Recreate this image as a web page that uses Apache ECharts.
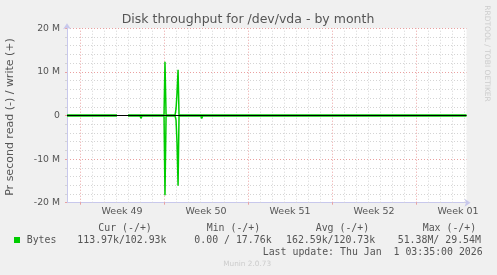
<!DOCTYPE html>
<html><head><meta charset="utf-8">
<script src="https://cdn.jsdelivr.net/npm/echarts@6/dist/echarts.min.js"></script>
<style>html,body{margin:0;padding:0;background:#f0f0f0;}#c{width:497px;height:275px;}</style>
</head><body><div id="c"></div>
<script>
// ---- data (time in days since Mon 1 Dec 2025 00:00; values in bytes/s) ----
const titleText = 'Disk throughput for /dev/vda - by month';
const yAxisName = 'Pr second read (-) / write (+)';
const weekLabels = ['Week 49', 'Week 50', 'Week 51', 'Week 52', 'Week 01'];
const weekCenters = [3.5, 10.5, 17.5, 24.5, 31.5];
const weekStarts = [0, 7, 14, 21, 28];
const minorDays = [1,2,3,4,5,6,8,9,10,11,12,13,15,16,17,18,19,20,22,23,24,25,26,27,29,30,31,32];
const yTickValues = [-20e6, -10e6, 0, 10e6, 20e6];
const yTickLabels = ['-20 M', '-10 M', '0', '10 M', '20 M'];
const X_MIN = -1.0833, X_MAX = 32.2;
const zeroRule = 0;

const times = [
  -1.08, -0.92, -0.83,
  0.0, 0.08, 0.17,
  1.0, 1.08, 1.17,
  2.0, 2.08, 2.17,
  3.08, 3.5, 4.0,
  4.17, 4.25, 4.33,
  5.0, 5.08, 5.17,
  6.0, 6.08, 6.17,
  6.67, 6.75, 6.83,
  7.0, 7.08, 7.17,
  7.92, 8.0, 8.08, 8.17, 8.25,
  9.25, 9.33, 9.42,
  10.06, 10.14, 10.22,
  11.0, 11.08, 11.17,
  12.0, 12.08, 12.17,
  13.92, 14.0, 14.08,
  23.42, 23.5, 23.58,
  24.67, 24.75, 24.83,
  32.2
];
const writeBytes = [
  103e3, 110e3, 103e3,
  103e3, 120e3, 103e3,
  103e3, 115e3, 103e3,
  103e3, 115e3, 103e3,
  103e3, null, 103e3,
  103e3, 480e3, 103e3,
  103e3, 120e3, 103e3,
  103e3, 120e3, 103e3,
  103e3, 300e3, 103e3,
  103e3, 12.3e6, 103e3,
  103e3, 1.5e6, 5.0e6, 10.5e6, 103e3,
  103e3, 110e3, 103e3,
  103e3, 120e3, 103e3,
  103e3, 115e3, 103e3,
  103e3, 115e3, 103e3,
  103e3, 400e3, 103e3,
  103e3, 250e3, 103e3,
  103e3, 250e3, 103e3,
  103e3
];
const readBytes = [
  114e3, 520e3, 114e3,
  114e3, 500e3, 114e3,
  114e3, 500e3, 114e3,
  114e3, 480e3, 114e3,
  114e3, null, 114e3,
  114e3, 120e3, 114e3,
  114e3, 650e3, 114e3,
  114e3, 520e3, 114e3,
  114e3, 130e3, 114e3,
  114e3, 18.3e6, 114e3,
  114e3, 1.0e6, 6.0e6, 16.1e6, 114e3,
  114e3, 420e3, 114e3,
  114e3, 700e3, 114e3,
  114e3, 450e3, 114e3,
  114e3, 380e3, 114e3,
  114e3, 500e3, 114e3,
  114e3, 120e3, 114e3,
  114e3, 120e3, 114e3,
  114e3
];

// legend texts
const legendHeader = ['Cur (-/+)', 'Min (-/+)', 'Avg (-/+)', 'Max (-/+)'];
const legendName = 'Bytes';
const legendValues = ['113.97k/102.93k', '0.00 / 17.76k', '162.59k/120.73k', '51.38M/ 29.54M'];
const lastUpdate = 'Last update: Thu Jan  1 03:35:00 2026';
const footer = 'Munin 2.0.73';
const sideText = 'RRDTOOL / TOBI OETIKER';

// ---- chart ----
const GREEN = '#00cc00';
const TXT = '#555555';
const AXIS = '#c8c8ec';
const RED = '#eaa0a0';
const GRAY = '#d4d4d4';

const writeData = times.map((t, i) => [t, writeBytes[i]]);
const readData = times.map((t, i) => [t, readBytes[i] == null ? null : -readBytes[i]]);
const zeroData = [[X_MIN, zeroRule], [X_MAX, zeroRule]];

const chart = echarts.init(document.getElementById('c'), null, {renderer: 'canvas'});
const sans = 'DejaVu Sans';

const headerX = [98.3, 206.7, 315.7, 422.7];
const valueX = [77.3, 194.3, 286, 397.7];

const graphics = [
  {type: 'text', x: 248, y: 20, style: {text: titleText, font: '12.5px "DejaVu Sans"', fill: TXT, align: 'center', verticalAlign: 'middle'}},
  {type: 'text', x: 10, y: 117, rotation: Math.PI / 2, style: {text: yAxisName, font: '11px "DejaVu Sans"', fill: TXT, align: 'center', verticalAlign: 'middle'}},
  {type: 'text', x: 487.3, y: 53.5, rotation: -Math.PI / 2, style: {text: sideText, font: '7.5px "DejaVu Sans"', fill: '#cccccc', align: 'center', verticalAlign: 'middle'}},
  {type: 'rect', shape: {x: 14, y: 237, width: 6, height: 6}, style: {fill: GREEN}},
  {type: 'text', x: 26.7, y: 240, style: {text: legendName, font: '9.9px "DejaVu Sans Mono"', fill: TXT, verticalAlign: 'middle'}},
  {type: 'text', x: 482.7, y: 252, style: {text: lastUpdate, font: '9.9px "DejaVu Sans Mono"', fill: TXT, align: 'right', verticalAlign: 'middle'}},
  {type: 'text', x: 223.3, y: 264.3, style: {text: footer, font: '7.3px "DejaVu Sans"', fill: '#cccccc', verticalAlign: 'middle'}}
];
legendHeader.forEach((h, i) => graphics.push({type: 'text', x: headerX[i], y: 228, style: {text: h, font: '9.9px "DejaVu Sans Mono"', fill: TXT, verticalAlign: 'middle'}}));
legendValues.forEach((v, i) => graphics.push({type: 'text', x: valueX[i], y: 240, style: {text: v, font: '9.9px "DejaVu Sans Mono"', fill: TXT, verticalAlign: 'middle'}}));

chart.setOption({
  animation: false,
  backgroundColor: '#f0f0f0',
  grid: {left: 67, right: 30.5, top: 28.3, bottom: 72.3, show: true, backgroundColor: '#ffffff', borderWidth: 0},
  xAxis: {
    type: 'value', min: X_MIN, max: X_MAX,
    axisLine: {show: true, onZero: false, lineStyle: {color: AXIS, width: 1}, symbol: ['none', 'arrow'], symbolSize: [6, 6], symbolOffset: [0, 4]},
    axisTick: {show: true, customValues: weekStarts, length: 2, lineStyle: {color: RED}},
    axisLabel: {
      show: true, customValues: weekCenters, margin: 4,
      fontFamily: sans, fontSize: 9.5, color: TXT,
      formatter: v => { const i = weekCenters.findIndex(c => Math.abs(c - v) < 1e-6); return i >= 0 ? weekLabels[i] : ''; }
    },
    splitLine: {show: false}
  },
  yAxis: {
    type: 'value', min: -20e6, max: 20e6, interval: 10e6,
    axisLine: {show: true, onZero: false, lineStyle: {color: AXIS, width: 1}, symbol: ['none', 'arrow'], symbolSize: [6, 6], symbolOffset: [0, 5]},
    axisTick: {show: true, length: 2, lineStyle: {color: RED}},
    minorTick: {show: true, splitNumber: 5, length: 2, lineStyle: {color: GRAY}},
    axisLabel: {
      margin: 7, fontFamily: sans, fontSize: 9.3, color: TXT,
      formatter: v => { const i = yTickValues.indexOf(v); return i >= 0 ? yTickLabels[i] : ''; }
    },
    splitLine: {show: true, lineStyle: {color: RED, type: [1, 2], width: 1}},
    minorSplitLine: {show: true, lineStyle: {color: GRAY, type: [1, 2], width: 1}}
  },
  graphic: graphics,
  series: [
    {type: 'line', data: [], silent: true, z: 1,
      markLine: {z: 1, silent: true, animation: false, symbol: ['none', 'none'], label: {show: false},
        lineStyle: {color: GRAY, type: [1, 2], width: 1}, emphasis: {disabled: true},
        data: minorDays.map(d => ({xAxis: d}))}},
    {type: 'line', data: [], silent: true, z: 1,
      markLine: {z: 1, silent: true, animation: false, symbol: ['none', 'none'], label: {show: false},
        lineStyle: {color: RED, type: [1, 2], width: 1}, emphasis: {disabled: true},
        data: weekStarts.map(d => ({xAxis: d}))}},
    {name: 'read', type: 'line', data: readData, showSymbol: false, connectNulls: false, z: 3,
      lineStyle: {color: GREEN, width: 1.5}, itemStyle: {color: GREEN}},
    {name: 'write', type: 'line', data: writeData, showSymbol: false, connectNulls: false, z: 3,
      lineStyle: {color: GREEN, width: 1.5}, itemStyle: {color: GREEN}},
    {name: 'zero', type: 'line', data: zeroData, showSymbol: false, silent: true, z: 4,
      lineStyle: {color: '#000000', width: 1}, itemStyle: {color: '#000000'}}
  ]
});
</script></body></html>
